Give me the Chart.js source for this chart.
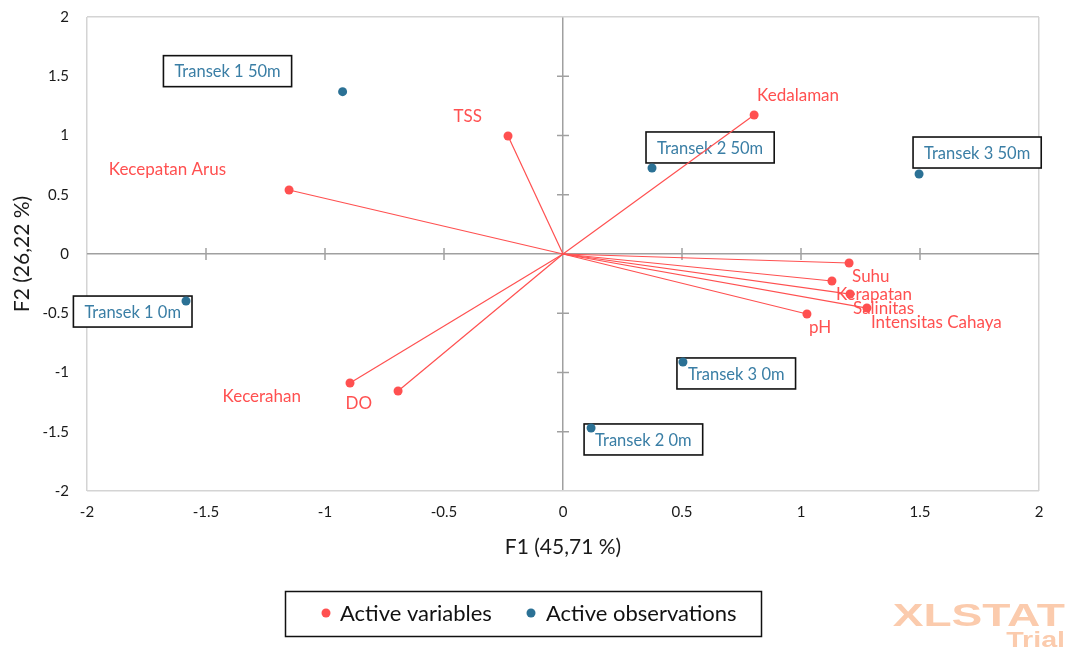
<!DOCTYPE html>
<html>
<head>
<meta charset="utf-8">
<script src="https://cdn.jsdelivr.net/npm/chart.js@4"></script>
<style>
  html, body { margin: 0; padding: 0; background: #fff; }
  #wrap { width: 1069px; height: 648px; }
</style>
</head>
<body>
<div id="wrap"><canvas id="biplot" width="1069" height="648"></canvas></div>
<script>
// Active variables (F1, F2)
const variableNames = ['Kedalaman', 'TSS', 'Kecepatan Arus', 'Suhu', 'Kerapatan', 'Salinitas', 'Intensitas Cahaya', 'pH', 'Kecerahan', 'DO'];
const variableF1 = [0.803, -0.231, -1.151, 1.202, 1.130, 1.206, 1.277, 1.025, -0.895, -0.693];
const variableF2 = [1.173, 0.996, 0.540, -0.076, -0.228, -0.338, -0.456, -0.506, -1.089, -1.156];

// Active observations (F1, F2)
const observationNames = ['Transek 1 0m', 'Transek 1 50m', 'Transek 2 0m', 'Transek 2 50m', 'Transek 3 0m', 'Transek 3 50m'];
const observationF1 = [-1.584, -0.926, 0.118, 0.374, 0.504, 1.496];
const observationF2 = [-0.397, 1.370, -1.468, 0.726, -0.911, 0.675];

const axisTicks = [-2, -1.5, -1, -0.5, 0, 0.5, 1, 1.5, 2];
const legendLabels = ['Active variables', 'Active observations'];

const RED = '#ff5050';
const BLUE = '#2b7195';
const BLUE_TEXT = '#3a7ea5';
const FONT = 'Lato, "Open Sans", sans-serif';

// label placement: [align, dx, dy] relative to the point
const variableLabelPos = [
    ['left', 3, -19], ['right', -26, -19], ['right', -63, -20],
    ['left', 3, 14], ['left', 4, 13], ['left', 3, 14], ['left', 4, 14],
    ['left', 2, 14], ['right', -49, 13], ['right', -26, 13]
];
// box placement: [side, dx, dy]; side tells which box edge sits at point.x + dx
const observationBoxPos = [
    ['right', 6, -5], ['right', -51, -36], ['left', -7, -4],
    ['left', -6, -36], ['left', -6, -4], ['left', -6, -37]
];

const vectorDatasets = variableNames.map((name, i) => ({
    label: name,
    data: [{ x: 0, y: 0 }, { x: variableF1[i], y: variableF2[i] }],
    showLine: true,
    borderColor: RED,
    borderWidth: 1.2,
    pointRadius: 0,
    pointHoverRadius: 0
}));

const decorPlugin = {
    id: 'decor',
    beforeDatasetsDraw(chart) {
        const { ctx, scales: { x, y } } = chart;
        const x0 = x.getPixelForValue(0);
        const y0 = y.getPixelForValue(0);
        ctx.save();

        // small cross ticks on the zero axes
        ctx.strokeStyle = '#a0a0a0';
        ctx.lineWidth = 1.5;
        axisTicks.forEach(v => {
            if (v === 0 || Math.abs(v) === 2) return;
            const px = x.getPixelForValue(v);
            ctx.beginPath(); ctx.moveTo(px, y0 - 6); ctx.lineTo(px, y0 + 6); ctx.stroke();
            const py = y.getPixelForValue(v);
            ctx.beginPath(); ctx.moveTo(x0 - 6, py); ctx.lineTo(x0 + 6, py); ctx.stroke();
        });

        // observation label boxes
        ctx.font = '16.5px ' + FONT;
        ctx.textBaseline = 'middle';
        ctx.textAlign = 'center';
        observationNames.forEach((name, i) => {
            const px = x.getPixelForValue(observationF1[i]);
            const py = y.getPixelForValue(observationF2[i]);
            const [side, dx, dy] = observationBoxPos[i];
            const w = ctx.measureText(name).width + 22;
            const h = 31;
            const left = side === 'left' ? px + dx : px + dx - w;
            const top = py + dy;
            ctx.fillStyle = '#fff';
            ctx.fillRect(left, top, w, h);
            ctx.strokeStyle = '#111';
            ctx.lineWidth = 1.6;
            ctx.strokeRect(left, top, w, h);
            ctx.fillStyle = BLUE_TEXT;
            ctx.fillText(name, left + w / 2, top + h / 2 + 1);
        });

        // variable labels
        ctx.font = '17px ' + FONT;
        ctx.fillStyle = RED;
        variableNames.forEach((name, i) => {
            const px = x.getPixelForValue(variableF1[i]);
            const py = y.getPixelForValue(variableF2[i]);
            const [align, dx, dy] = variableLabelPos[i];
            ctx.textAlign = align;
            ctx.fillText(name, px + dx, py + dy);
        });
        ctx.restore();
    },
    afterDraw(chart) {
        const { ctx, chartArea } = chart;
        ctx.save();

        // axis titles
        ctx.fillStyle = '#1a1a1a';
        ctx.font = '21px ' + FONT;
        ctx.textAlign = 'center';
        ctx.textBaseline = 'middle';
        ctx.fillText('F1 (45,71 %)', (chartArea.left + chartArea.right) / 2, 547);
        ctx.save();
        ctx.translate(22, (chartArea.top + chartArea.bottom) / 2);
        ctx.rotate(-Math.PI / 2);
        ctx.fillText('F2 (26,22 %)', 0, 0);
        ctx.restore();

        // legend
        ctx.strokeStyle = '#111';
        ctx.lineWidth = 1.5;
        ctx.strokeRect(285.5, 591.5, 476, 45);
        ctx.font = '22px ' + FONT;
        ctx.textAlign = 'left';
        ctx.fillStyle = RED;
        ctx.beginPath(); ctx.arc(326, 613, 4.5, 0, Math.PI * 2); ctx.fill();
        ctx.fillStyle = BLUE;
        ctx.beginPath(); ctx.arc(531, 613, 4.5, 0, Math.PI * 2); ctx.fill();
        ctx.fillStyle = '#111';
        ctx.fillText(legendLabels[0], 340, 614);
        ctx.fillText(legendLabels[1], 546, 614);

        // watermark
        ctx.fillStyle = '#fbcbad';
        ctx.textAlign = 'right';
        ctx.textBaseline = 'alphabetic';
        ctx.save();
        ctx.translate(1065, 626);
        ctx.scale(1.44, 1);
        ctx.font = 'bold 32px "Liberation Sans", Arial, sans-serif';
        ctx.fillText('XLSTAT', 0, 0);
        ctx.restore();
        ctx.save();
        ctx.translate(1065, 647);
        ctx.scale(1.3, 1);
        ctx.font = 'bold 22px "Liberation Sans", Arial, sans-serif';
        ctx.fillText('Trial', 0, 0);
        ctx.restore();

        ctx.restore();
    }
};

const gridColor = c => c.tick.value === 0 ? '#a0a0a0' : (Math.abs(c.tick.value) === 2 ? '#d4d4d4' : 'rgba(0,0,0,0)');

new Chart(document.getElementById('biplot'), {
    type: 'scatter',
    data: {
        datasets: [
            ...vectorDatasets,
            {
                label: legendLabels[0],
                data: variableF1.map((v, i) => ({ x: v, y: variableF2[i] })),
                backgroundColor: RED,
                borderWidth: 0,
                pointRadius: 4.5
            },
            {
                label: legendLabels[1],
                data: observationF1.map((v, i) => ({ x: v, y: observationF2[i] })),
                backgroundColor: BLUE,
                borderWidth: 0,
                pointRadius: 4.5
            }
        ]
    },
    options: {
        responsive: false,
        animation: false,
        devicePixelRatio: 1,
        layout: { padding: { top: 17, right: 30, left: 0, bottom: 0 } },
        plugins: {
            legend: { display: false },
            tooltip: { enabled: false }
        },
        scales: {
            x: {
                type: 'linear',
                min: -2,
                max: 2,
                afterFit: scale => { scale.height = 157; scale.paddingLeft = 0; scale.paddingRight = 0; },
                ticks: {
                    stepSize: 0.5,
                    padding: 12,
                    color: '#1a1a1a',
                    font: { family: FONT, size: 15 },
                    callback: v => String(v)
                },
                grid: { color: gridColor, lineWidth: 1.5, drawTicks: false },
                border: { display: false }
            },
            y: {
                type: 'linear',
                min: -2,
                max: 2,
                afterFit: scale => { scale.width = 87; scale.paddingTop = 0; scale.paddingBottom = 0; },
                ticks: {
                    stepSize: 0.5,
                    padding: 18,
                    color: '#1a1a1a',
                    font: { family: FONT, size: 15 },
                    callback: v => String(v)
                },
                grid: { color: gridColor, lineWidth: 1.5, drawTicks: false },
                border: { display: false }
            }
        }
    },
    plugins: [decorPlugin]
});
</script>
</body>
</html>
